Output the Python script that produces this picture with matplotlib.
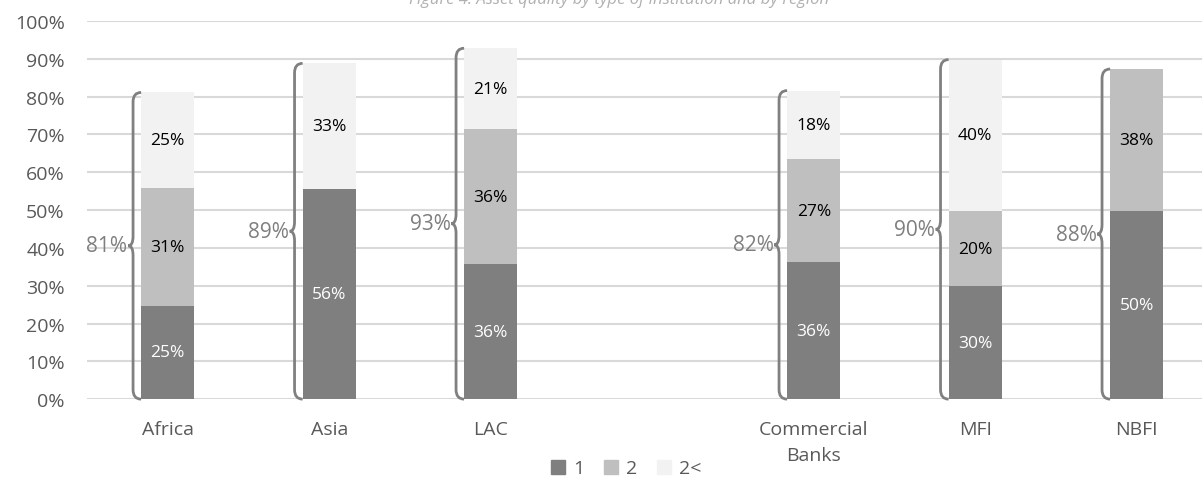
import matplotlib.pyplot as plt
from matplotlib.path import Path
from matplotlib.patches import PathPatch, Patch

plt.rcParams['font.family'] = ['Open Sans', 'DejaVu Sans']

# data (fractions)
categories = ['Africa', 'Asia', 'LAC', '', 'Commercial\nBanks', 'MFI', 'NBFI']
one = [0.247, 0.555, 0.357, 0, 0.362, 0.299, 0.497]
two = [0.312, 0.0, 0.357, 0, 0.273, 0.198, 0.376]
more = [0.252, 0.333, 0.214, 0, 0.181, 0.401, 0.0]
totals = [0.81, 0.89, 0.93, None, 0.82, 0.90, 0.88]
series_names = ['1', '2', '2<']

colors = ['#7f7f7f', '#bfbfbf', '#f2f2f2']
label_colors = ['white', 'black', 'black']

fig = plt.figure(figsize=(12.02, 4.85), dpi=100)
ax = fig.add_axes([0.0724, 0.175, 0.9405, 0.7796])

x = list(range(len(categories)))
w = 0.33
bottoms = [0] * len(x)
for vals, c, lc in zip([one, two, more], colors, label_colors):
    ax.bar(x, vals, width=w, bottom=bottoms, color=c, zorder=2)
    for xi, v, b in zip(x, vals, bottoms):
        if v > 0:
            ax.text(xi, b + v / 2, f'{round(v * 100):.0f}%', ha='center', va='center',
                    fontsize=12.5, color=lc, zorder=3)
    bottoms = [b + v for b, v in zip(bottoms, vals)]

# curly braces showing the total of each bar
for xi, top, tot in zip(x, bottoms, totals):
    if tot is None:
        continue
    x0 = xi - w / 2
    x1 = x0 - 0.05
    x2 = x1 - 0.03
    ry = 0.025
    ym = top / 2
    verts = [(x0, top), (x1, top), (x1, top - ry),
             (x1, ym + ry), (x1, ym), (x2, ym),
             (x1, ym), (x1, ym - ry),
             (x1, ry), (x1, 0), (x0, 0)]
    codes = [Path.MOVETO, Path.CURVE3, Path.CURVE3,
             Path.LINETO, Path.CURVE3, Path.CURVE3,
             Path.CURVE3, Path.CURVE3,
             Path.LINETO, Path.CURVE3, Path.CURVE3]
    ax.add_patch(PathPatch(Path(verts, codes), fill=False, edgecolor='#808080',
                           lw=2, zorder=3, clip_on=False))
    ax.text(x2 - 0.005, ym, f'{tot:.0%}', ha='right', va='center', fontsize=15,
            color='#7f7f7f')

ax.set_xlim(-0.5, 6.5)
ax.set_ylim(0, 1.0)
ax.set_yticks([i / 10 for i in range(11)])
ax.set_yticklabels([f'{i * 10}%' for i in range(11)])
ax.set_xticks([i for i in x if categories[i]])
ax.set_xticklabels([c for c in categories if c], linespacing=1.6)
ax.tick_params(length=0, labelsize=14, labelcolor='#595959')
ax.tick_params(axis='y', pad=16)
ax.tick_params(axis='x', pad=15)
ax.grid(axis='y', color='#d9d9d9', lw=1.5, zorder=0)
for s in ax.spines.values():
    s.set_visible(False)

handles = [Patch(color=c) for c in colors]
fig.legend(handles, series_names, loc='center', bbox_to_anchor=(0.521, 0.032),
           ncol=3, frameon=False, fontsize=14, labelcolor='#595959',
           handlelength=0.75, handleheight=0.75, handletextpad=0.4, columnspacing=1.0)

fig.text(0.515, 1 - 4 / 485, 'Figure 4: Asset quality by type of institution and by region',
         ha='center', va='baseline', fontsize=12, style='italic', color='#b0b0b0')

fig.savefig('out.png', dpi=100)
